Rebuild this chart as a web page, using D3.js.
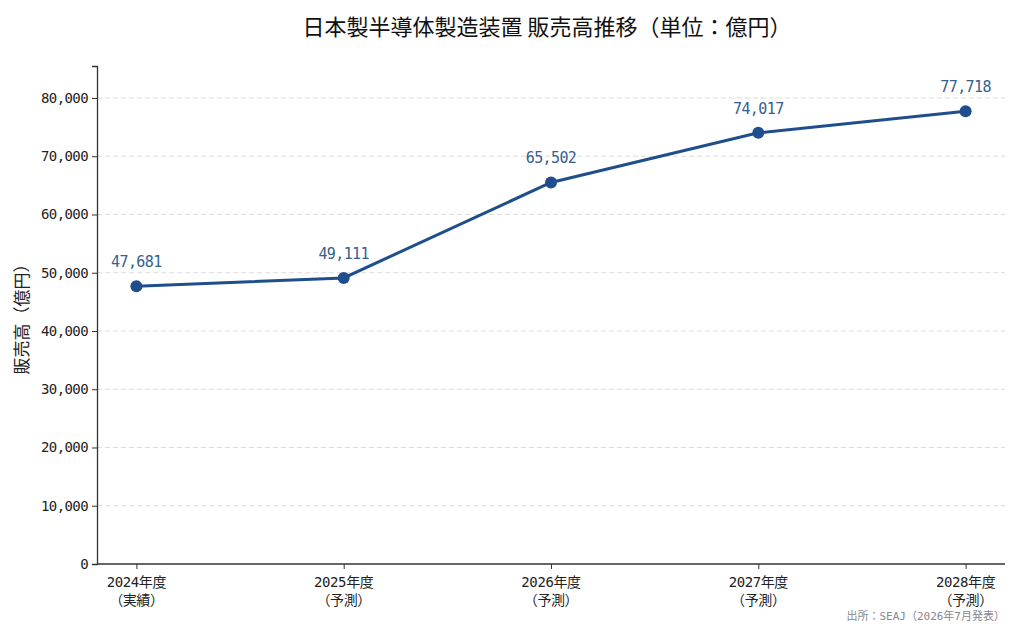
<!DOCTYPE html>
<html>
<head>
<meta charset="utf-8">
<script src="https://cdn.jsdelivr.net/npm/d3@7"></script>
<style>
  body { margin: 0; background: #fff; }
</style>
</head>
<body>
<div id="chart"></div>
<script>
// data
var years = ["2024年度", "2025年度", "2026年度", "2027年度", "2028年度"];
var kinds = ["（実績）", "（予測）", "（予測）", "（予測）", "（予測）"];
var sales = [47681, 49111, 65502, 74017, 77718];
var yTicks = [0, 10000, 20000, 30000, 40000, 50000, 60000, 70000, 80000];

var width = 1024, height = 626;
var margin = {top: 66, right: 19, bottom: 62, left: 97};
var lineColor = "#1f4e8c";
var monoFont = '"DejaVu Sans Mono", "Noto Sans CJK JP", monospace';

var svg = d3.select("#chart")
  .append("svg")
  .attr("width", width)
  .attr("height", height);

var x = d3.scalePoint()
  .domain(years)
  .range([margin.left, width - margin.right])
  .padding(0.19);

var y = d3.scaleLinear()
  .domain([0, d3.max(sales) * 1.1])
  .range([height - margin.bottom, margin.top]);

var fmt = d3.format(",");

//grid
svg.append("g")
  .selectAll("line")
  .data(yTicks.slice(1))
  .join("line")
  .attr("x1", margin.left)
  .attr("x2", width - margin.right)
  .attr("y1", d => y(d))
  .attr("y2", d => y(d))
  .attr("stroke", "#dcdcdc")
  .attr("stroke-width", 1)
  .attr("stroke-dasharray", "5,3");

//y axis
var yAxis = svg.append("g")
  .attr("transform", "translate(" + margin.left + ",0)")
  .call(d3.axisLeft(y).tickValues(yTicks).tickFormat(fmt).tickSize(5).tickPadding(4));
yAxis.select(".domain").attr("stroke", "#333").attr("stroke-width", 1.3);
yAxis.selectAll(".tick line").attr("stroke", "#333");
yAxis.selectAll(".tick text")
  .style("font-family", monoFont)
  .style("font-size", "14px")
  .style("letter-spacing", "-0.6px")
  .attr("fill", "#222");

//x axis
var xAxis = svg.append("g")
  .attr("transform", "translate(0," + (height - margin.bottom) + ")")
  .call(d3.axisBottom(x).tickSize(5).tickFormat(""));
xAxis.select(".domain")
  .attr("d", "M" + margin.left + ",0H" + (width - margin.right))
  .attr("stroke", "#333").attr("stroke-width", 1.3);
xAxis.selectAll(".tick line").attr("stroke", "#333");

var xl = svg.append("g").selectAll("text")
  .data(years)
  .join("text")
  .attr("x", d => x(d))
  .attr("y", height - margin.bottom + 23)
  .attr("text-anchor", "middle")
  .style("font-family", monoFont)
  .style("font-size", "14px")
  .style("letter-spacing", "-0.4px")
  .attr("fill", "#222");
xl.append("tspan").attr("x", d => x(d)).text(d => d);
xl.append("tspan").attr("x", d => x(d)).attr("dy", 18).text((d, i) => kinds[i]);

//line
var line = d3.line()
  .x((d, i) => x(years[i]))
  .y(d => y(d));

svg.append("path")
  .datum(sales)
  .attr("d", line)
  .attr("fill", "none")
  .attr("stroke", lineColor)
  .attr("stroke-width", 3);

svg.append("g").selectAll("circle")
  .data(sales)
  .join("circle")
  .attr("cx", (d, i) => x(years[i]))
  .attr("cy", d => y(d))
  .attr("r", 6)
  .attr("fill", lineColor);

//value labels
svg.append("g").selectAll("text")
  .data(sales)
  .join("text")
  .attr("x", (d, i) => x(years[i]))
  .attr("y", d => y(d) - 19)
  .attr("text-anchor", "middle")
  .style("font-family", monoFont)
  .style("font-size", "15px")
  .style("letter-spacing", "-0.6px")
  .attr("fill", "#35608f")
  .text(d => fmt(d));

//title
svg.append("text")
  .attr("x", (margin.left + width - margin.right) / 2 - 4)
  .attr("y", 35)
  .attr("text-anchor", "middle")
  .style("font-family", '"Noto Sans CJK JP", sans-serif')
  .style("font-size", "22px")
  .attr("fill", "#111")
  .text("日本製半導体製造装置 販売高推移（単位：億円）");

//y label
svg.append("text")
  .attr("transform", "translate(28," + ((margin.top + height - margin.bottom) / 2) + ") rotate(-90)")
  .attr("text-anchor", "middle")
  .style("font-family", '"Noto Sans CJK JP", sans-serif')
  .style("font-size", "17px")
  .attr("fill", "#222")
  .text("販売高（億円）");

//source
svg.append("text")
  .attr("x", width - margin.right)
  .attr("y", 620)
  .attr("text-anchor", "end")
  .style("font-family", monoFont)
  .style("font-size", "11px")
  .attr("fill", "#888")
  .text("出所：SEAJ（2026年7月発表）");
</script>
</body>
</html>
